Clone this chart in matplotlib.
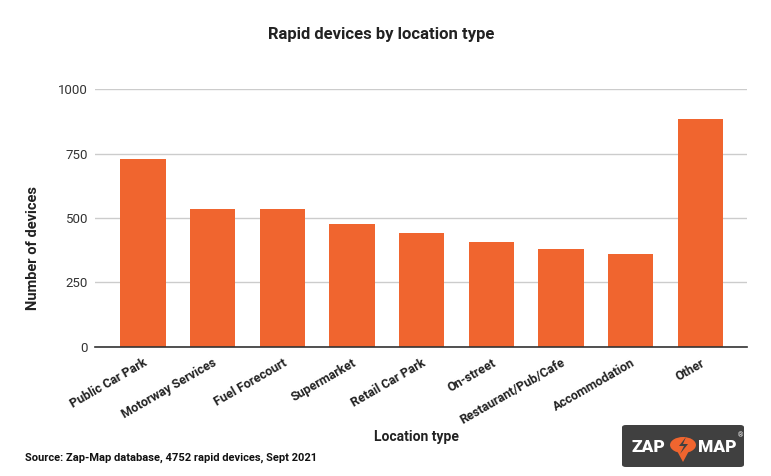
import matplotlib.pyplot as plt
import matplotlib.transforms as mtransforms
from matplotlib.patches import FancyBboxPatch, Circle, Polygon

plt.rcParams['font.family'] = ['Roboto', 'DejaVu Sans']

# data
categories = ["Public Car Park", "Motorway Services", "Fuel Forecourt", "Supermarket",
              "Retail Car Park", "On-street", "Restaurant/Pub/Cafe", "Accommodation", "Other"]
devices = [730, 536, 535, 477, 442, 407, 380, 360, 885]
yticks = [0, 250, 500, 750, 1000]

bar_color = "#F0652F"
W, H = 771, 476

fig = plt.figure(figsize=(W / 100, H / 100), dpi=100)
ax = fig.add_axes([95 / W, 1 - 346.7 / H, (747 - 95) / W, (346.7 - 89.3) / H])

x = range(len(categories))
ax.bar(x, devices, width=0.65, color=bar_color, zorder=3)

ax.set_ylim(0, 1000)
ax.set_xlim(-0.69, 8.67)
ax.set_yticks(yticks)
ax.set_yticklabels([str(t) for t in yticks], fontsize=9.5, color="#333333")
ax.set_xticks(list(x))
ax.set_xticklabels(categories, rotation=30, ha="right", rotation_mode="anchor",
                   fontsize=9, fontweight="bold", color="#222222")
# nudge the rotated labels a little to the right, like the original
shift = mtransforms.ScaledTranslation(6 / 100, 0, fig.dpi_scale_trans)
for lab in ax.get_xticklabels():
    lab.set_transform(lab.get_transform() + shift)
ax.tick_params(axis="both", length=0)
ax.tick_params(axis="y", pad=5)
ax.tick_params(axis="x", pad=7)

ax.grid(axis="y", color="#cccccc", linewidth=1, zorder=0)
for s in ["top", "right", "left"]:
    ax.spines[s].set_visible(False)
ax.spines["bottom"].set_color("#333333")
ax.spines["bottom"].set_linewidth(1.2)
ax.spines["bottom"].set_zorder(4)

fig.text(381 / W, 1 - 35 / H, "Rapid devices by location type", ha="center", va="center",
         fontsize=12, fontweight="bold", color="#222222")
fig.text(33 / W, 1 - 248 / H, "Number of devices", rotation=90, ha="center", va="center",
         fontsize=10.5, fontweight="bold", color="#222222")
fig.text(416 / W, 1 - 437 / H, "Location type", ha="center", va="center",
         fontsize=10, fontweight="bold", color="#222222")
fig.text(25 / W, 1 - 458 / H, "Source: Zap-Map database, 4752 rapid devices, Sept 2021",
         ha="left", va="center", fontsize=8, fontweight="bold", color="#111111")

# logo
def px(xp, yp):
    return (xp / W, 1 - yp / H)

logo = FancyBboxPatch(px(622, 467), 122 / W, 42 / H,
                      boxstyle="round,pad=0,rounding_size=0.005",
                      transform=fig.transFigure, facecolor="#404040", edgecolor="none")
fig.patches.append(logo)
fig.text(648.5 / W, 1 - 446.5 / H, "ZAP", ha="center", va="center", fontsize=12.5,
         fontweight="heavy", color="white")
fig.text(717 / W, 1 - 446.5 / H, "MAP", ha="center", va="center", fontsize=12.5,
         fontweight="heavy", color="white")
fig.patches.append(Circle(px(683, 445), 8 / H, transform=fig.transFigure,
                          facecolor=bar_color, edgecolor="none"))
pin = Polygon([px(676, 449), px(690, 449), px(683, 462)], closed=True,
              transform=fig.transFigure, facecolor=bar_color, edgecolor="none")
fig.patches.append(pin)
bolt = Polygon([px(686, 437), px(679, 446), px(684, 446), px(680, 454),
                px(688, 444), px(683, 444)], closed=True,
               transform=fig.transFigure, facecolor="#404040", edgecolor="none")
fig.patches.append(bolt)
fig.text(740 / W, 1 - 436 / H, "\u00ae", ha="center", va="center", fontsize=5,
         color="white")

fig.savefig("out.png", dpi=100)
